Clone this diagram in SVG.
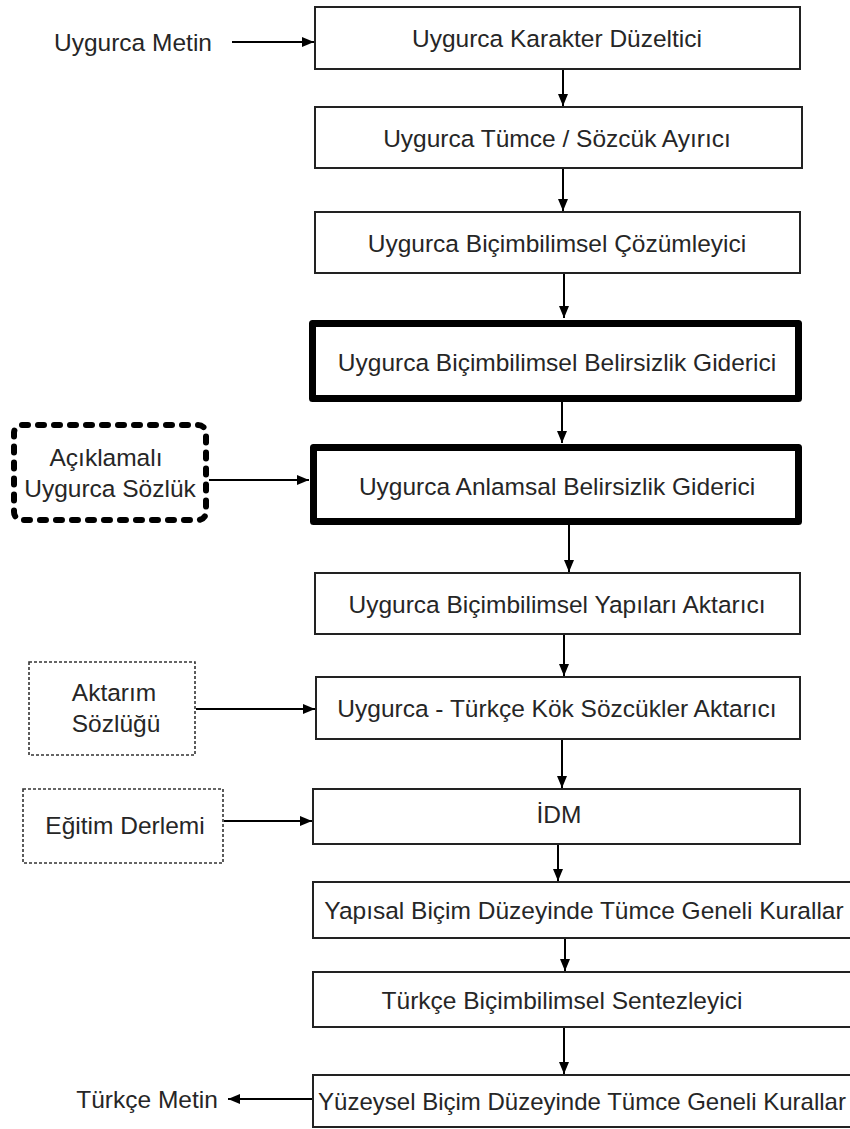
<svg xmlns="http://www.w3.org/2000/svg" width="850" height="1129" viewBox="0 0 850 1129">
<defs>
<marker id="ah" markerWidth="12" markerHeight="10" refX="12" refY="5" orient="auto" markerUnits="userSpaceOnUse">
<path d="M0,0 L12,5 L0,10 Z" fill="#000"/>
</marker>
<style>
text{font-family:"Liberation Sans",Arial,sans-serif;font-size:24.5px;fill:#262626;text-anchor:middle;dominant-baseline:central}
.box{fill:#fff;stroke:#222;stroke-width:2}
.bold{fill:#fff;stroke:#000;stroke-width:7;stroke-linejoin:round}
.dthin{fill:#fff;stroke:#333;stroke-width:1.6;stroke-dasharray:3 2}
.dthick{fill:#fff;stroke:#000;stroke-width:6;stroke-dasharray:6 10;stroke-linecap:round}
.c{stroke:#000;stroke-width:2;fill:none;marker-end:url(#ah)}
</style>
</defs>
<rect width="850" height="1129" fill="#fff"/>
<g id="connectors">
<line class="c" x1="232" y1="42" x2="314" y2="42"/>
<line class="c" x1="563" y1="70" x2="563" y2="106"/>
<line class="c" x1="563" y1="168" x2="563" y2="211"/>
<line class="c" x1="564" y1="273" x2="564" y2="318"/>
<line class="c" x1="562" y1="402" x2="562" y2="443"/>
<line class="c" x1="209" y1="480" x2="309" y2="480"/>
<line class="c" x1="569" y1="525" x2="569" y2="572"/>
<line class="c" x1="564" y1="634" x2="564" y2="676"/>
<line class="c" x1="196" y1="709" x2="315" y2="709"/>
<line class="c" x1="562" y1="739" x2="562" y2="788"/>
<line class="c" x1="224" y1="821" x2="312" y2="821"/>
<line class="c" x1="558" y1="844" x2="558" y2="881"/>
<line class="c" x1="565" y1="938" x2="565" y2="971"/>
<line class="c" x1="564" y1="1027" x2="564" y2="1074"/>
<line class="c" x1="313" y1="1099" x2="228" y2="1099"/>
</g>
<g id="in"><text x="133" y="42">Uygurca Metin</text></g>
<g id="n1"><rect class="box" x="315" y="7" width="485" height="62"/><text x="557" y="38">Uygurca Karakter Düzeltici</text></g>
<g id="n2"><rect class="box" x="315" y="107" width="487" height="61"/><text x="557" y="138">Uygurca Tümce / Sözcük Ayırıcı</text></g>
<g id="n3"><rect class="box" x="315" y="212" width="485" height="61"/><text x="557" y="243">Uygurca Biçimbilimsel Çözümleyici</text></g>
<g id="n4"><rect class="bold" x="312.5" y="323.5" width="486" height="75"/><text x="557" y="362">Uygurca Biçimbilimsel Belirsizlik Giderici</text></g>
<g id="dict1"><rect class="dthick" x="14" y="425" width="192" height="95" rx="8"/><text x="106" y="457">Açıklamalı</text><text x="110" y="488">Uygurca Sözlük</text></g>
<g id="n5"><rect class="bold" x="313.5" y="447.5" width="485" height="74"/><text x="557" y="486">Uygurca Anlamsal Belirsizlik Giderici</text></g>
<g id="n6"><rect class="box" x="315" y="573" width="485" height="61"/><text x="557" y="604">Uygurca Biçimbilimsel Yapıları Aktarıcı</text></g>
<g id="dict2"><rect class="dthin" x="29" y="662" width="166" height="93"/><text x="114" y="692">Aktarım</text><text x="116" y="723">Sözlüğü</text></g>
<g id="n7"><rect class="box" x="316" y="677" width="484" height="62"/><text x="557" y="708">Uygurca - Türkçe Kök Sözcükler Aktarıcı</text></g>
<g id="corpus"><rect class="dthin" x="23" y="789" width="200" height="74"/><text x="125" y="825">Eğitim Derlemi</text></g>
<g id="n8"><rect class="box" x="313" y="789" width="487" height="55"/><text x="559" y="814">İDM</text></g>
<g id="n9"><rect class="box" x="313" y="882" width="550" height="56"/><text x="584" y="910">Yapısal Biçim Düzeyinde Tümce Geneli Kurallar</text></g>
<g id="n10"><rect class="box" x="313" y="972" width="550" height="55"/><text x="562" y="1000">Türkçe Biçimbilimsel Sentezleyici</text></g>
<g id="n11"><rect class="box" x="313" y="1075" width="550" height="52"/><text x="582" y="1101" style="font-size:24px">Yüzeysel Biçim Düzeyinde Tümce Geneli Kurallar</text></g>
<g id="out"><text x="147" y="1099">Türkçe Metin</text></g>
</svg>
